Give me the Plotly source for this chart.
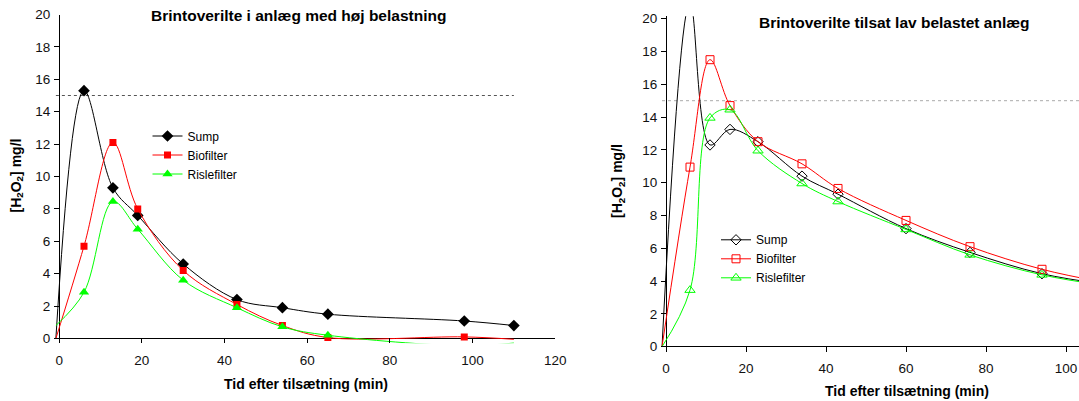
import plotly.graph_objects as go

# ---------------- data ----------------
# Left chart: high-load plant
time_high = [-0.8, 6, 13, 19, 30, 43, 54, 65, 98, 110]
sump_high = [0, 15.3, 9.3, 7.6, 4.6, 2.4, 1.9, 1.5, 1.08, 0.8]
bio_high = [0, 5.7, 12.1, 8.0, 4.2, 2.1, 0.8, 0.06, 0.1, -0.05]
risle_high = [0.8, 2.85, 8.45, 6.75, 3.6, 1.9, 0.72, 0.2, -0.45, -0.28]

# Right chart: low-load plant
time_low = [-1, 6, 11, 16, 23, 34, 43, 60, 76, 94, 110]
sump_low = [0, 21.0, 12.3, 13.25, 12.5, 10.4, 9.3, 7.2, 5.75, 4.45, 3.8]
bio_low = [0, 10.95, 17.5, 14.7, 12.5, 11.15, 9.65, 7.7, 6.1, 4.72, 3.9]
risle_low = [0, 3.45, 13.95, 14.45, 11.95, 9.95, 8.85, 7.15, 5.6, 4.38, 3.72]

limit_value = 15
limit_x_high = [-0.8, 110]
limit_x_low = [-1, 110]

series_names = ["Sump", "Biofilter", "Rislefilter"]
title_high = "Brintoverilte i anlæg med høj belastning"
title_low = "Brintoverilte tilsat lav belastet anlæg"
x_title = "Tid efter tilsætning (min)"
y_title = "[H<sub>2</sub>O<sub>2</sub>] mg/l"

FONT = "Liberation Sans, Arial, sans-serif"
colors = ["#000000", "#ff0000", "#00ff00"]

W, H = 1079, 401


def visible_points(xs, ys, ymax):
    pts = [(x, y) for x, y in zip(xs, ys) if 0 <= x and 0 <= y <= ymax]
    return [p[0] for p in pts], [p[1] for p in pts]


fig = go.Figure()

# limit lines
fig.add_trace(go.Scatter(x=limit_x_high, y=[limit_value] * len(limit_x_high), mode="lines",
                         line=dict(color="#555555", width=1, dash="dot"), showlegend=False,
                         xaxis="x", yaxis="y", hoverinfo="skip"))
fig.add_trace(go.Scatter(x=limit_x_low, y=[limit_value] * len(limit_x_low), mode="lines",
                         line=dict(color="#aaaaaa", width=1, dash="dot"), showlegend=False,
                         xaxis="x2", yaxis="y2", hoverinfo="skip"))


def add_series(xs, ys, name, c, sym, s, open_sym, xa, ya, leg, ymax):
    fig.add_trace(go.Scatter(
        x=xs, y=ys, mode="lines", line=dict(color=c, width=1, shape="spline", smoothing=1),
        showlegend=False, xaxis=xa, yaxis=ya, hoverinfo="skip"))
    mx, my = visible_points(xs, ys, ymax)
    mk = dict(symbol=sym, color=c, size=s, line=dict(width=1 if open_sym else 0, color=c))
    fig.add_trace(go.Scatter(x=mx, y=my, mode="markers", marker=mk, showlegend=False,
                             xaxis=xa, yaxis=ya, name=name))
    # legend entry
    fig.add_trace(go.Scatter(x=[None], y=[None], mode="lines+markers", name=name,
                             line=dict(color=c, width=1), marker=mk,
                             xaxis=xa, yaxis=ya, legend=leg, showlegend=True))


sym_high = ["diamond", "square", "triangle-up"]
size_high = [9, 7, 9]
for name, ys, c, sym, s in zip(series_names, [sump_high, bio_high, risle_high], colors, sym_high, size_high):
    add_series(time_high, ys, name, c, sym, s, False, "x", "y", "legend", 20)

sym_low = ["diamond-open", "square-open", "triangle-up-open"]
size_low = [8, 8, 9]
for name, ys, c, sym, s in zip(series_names, [sump_low, bio_low, risle_low], colors, sym_low, size_low):
    add_series(time_low, ys, name, c, sym, s, True, "x2", "y2", "legend2", 20)

axis_common = dict(showgrid=False, showline=False, zeroline=True, zerolinecolor="black",
                   zerolinewidth=1, ticks="inside", ticklen=5, tickcolor="black", tickwidth=1,
                   automargin=False,
                   tickfont=dict(family=FONT, size=13.5, color="#111111"))

fig.update_layout(
    template="none",
    width=W, height=H,
    margin=dict(l=0, r=0, t=0, b=0, autoexpand=False),
    paper_bgcolor="white", plot_bgcolor="white",
    font=dict(family=FONT, color="black"),
    xaxis=dict(axis_common, domain=[54.24 / W, 555.2 / W], range=[-1.2, 120],
               tickvals=list(range(0, 121, 20)), anchor="y", ticklabelstandoff=7),
    yaxis=dict(axis_common, domain=[1 - 343.36 / H, 1 - 14.5 / H], range=[-0.3, 20],
               tickvals=list(range(0, 21, 2)), anchor="x", ticklabelstandoff=3),
    xaxis2=dict(axis_common, domain=[661.2 / W, 1.0], range=[-1.2, 103.25],
                tickvals=list(range(0, 101, 20)), anchor="y2", ticklabelstandoff=7),
    yaxis2=dict(axis_common, domain=[1 - 351.62 / H, 1 - 16.24 / H], range=[-0.3, 20.15],
                tickvals=list(range(0, 21, 2)), anchor="x2", ticklabelstandoff=3),
    legend=dict(x=147.5 / W, y=1 - 155 / H, xanchor="left", yanchor="middle",
                bgcolor="rgba(0,0,0,0)", font=dict(family=FONT, size=12, color="black"),
                tracegroupgap=0),
    legend2=dict(x=716 / W, y=1 - 258.8 / H, xanchor="left", yanchor="middle",
                 bgcolor="rgba(0,0,0,0)", font=dict(family=FONT, size=12, color="black"),
                 tracegroupgap=0),
    showlegend=True,
)

ann = [
    dict(text="<b>%s</b>" % title_high, x=298 / W, y=1 - 15 / H, font=dict(size=15.5)),
    dict(text="<b>%s</b>" % title_low, x=894 / W, y=1 - 22.5 / H, font=dict(size=15.5)),
    dict(text="<b>%s</b>" % x_title, x=306 / W, y=1 - 384 / H, font=dict(size=14)),
    dict(text="<b>%s</b>" % x_title, x=907 / W, y=1 - 391 / H, font=dict(size=14)),
    dict(text="<b>%s</b>" % y_title, x=16.5 / W, y=1 - 176 / H, font=dict(size=14), textangle=-90),
    dict(text="<b>%s</b>" % y_title, x=618 / W, y=1 - 181 / H, font=dict(size=14), textangle=-90),
]
for a in ann:
    a.update(xref="paper", yref="paper", xanchor="center", yanchor="middle", showarrow=False)
    a["font"].update(family=FONT, color="black")
    fig.add_annotation(**a)

fig.write_html("out.html", config={"displayModeBar": False},
               post_script="document.body.style.margin='0';")
